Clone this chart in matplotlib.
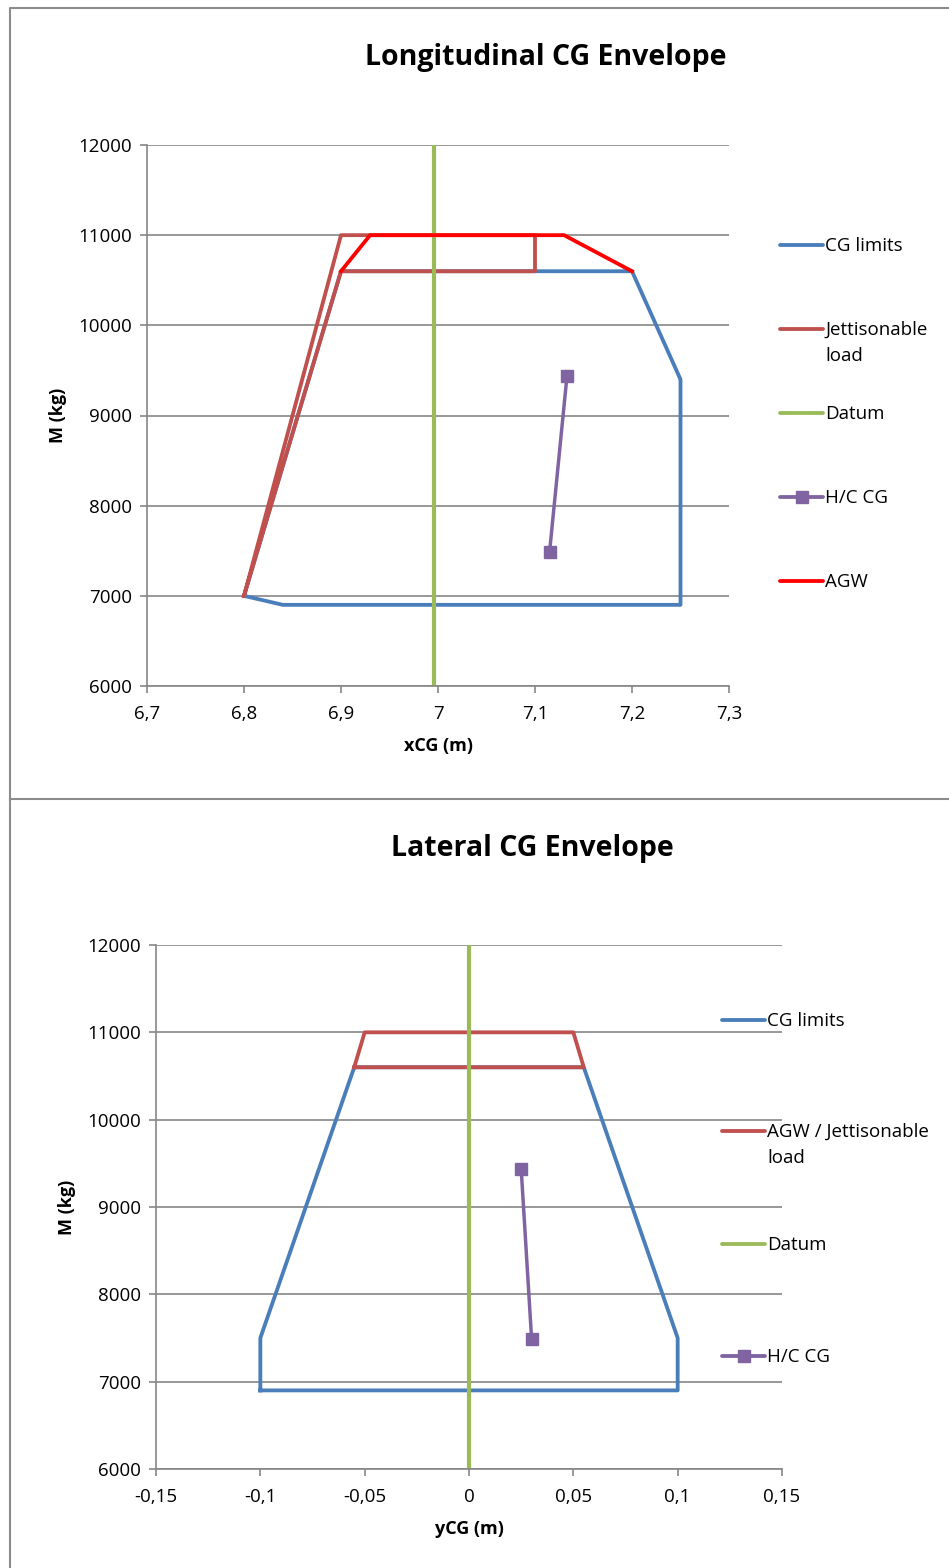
import matplotlib
matplotlib.use('Agg')
import matplotlib.pyplot as plt
from matplotlib.lines import Line2D

plt.rcParams['font.family'] = ['Open Sans', 'DejaVu Sans']

# ---- longitudinal envelope data
lon_cg_x = [6.8, 6.84, 7.25, 7.25, 7.2, 6.9, 6.8]
lon_cg_m = [7000, 6900, 6900, 9400, 10600, 10600, 7000]
lon_jet_x = [6.8, 6.9, 7.1, 7.1, 6.9, 6.8]
lon_jet_m = [7000, 11000, 11000, 10600, 10600, 7000]
lon_datum_x = [6.996, 6.996]
lon_datum_m = [6000, 12000]
lon_hc_x = [7.115, 7.133]
lon_hc_m = [7485, 9440]
lon_agw_x = [6.9, 6.93, 7.13, 7.2]
lon_agw_m = [10600, 11000, 11000, 10600]
lon_xticks = [6.7, 6.8, 6.9, 7.0, 7.1, 7.2, 7.3]
lon_xlabels = ['6,7', '6,8', '6,9', '7', '7,1', '7,2', '7,3']

# ---- lateral envelope data
lat_cg_y = [-0.1, -0.1, -0.055, 0.055, 0.1, 0.1, -0.1]
lat_cg_m = [6900, 7500, 10600, 10600, 7500, 6900, 6900]
lat_agw_y = [-0.055, -0.05, 0.05, 0.055, -0.055]
lat_agw_m = [10600, 11000, 11000, 10600, 10600]
lat_datum_y = [0, 0]
lat_datum_m = [6000, 12000]
lat_hc_y = [0.025, 0.030]
lat_hc_m = [9440, 7490]
lat_xticks = [-0.15, -0.1, -0.05, 0, 0.05, 0.1, 0.15]
lat_xlabels = ['-0,15', '-0,1', '-0,05', '0', '0,05', '0,1', '0,15']

m_ticks = [6000, 7000, 8000, 9000, 10000, 11000, 12000]

BLUE = '#4a7ebb'
BROWN = '#c0504d'
GREEN = '#9bbb59'
PURPLE = '#8064a2'
RED = '#ff0000'
GRID = '#868686'

W, H = 949, 1568
fig = plt.figure(figsize=(W / 100, H / 100), dpi=100)


def px_axes(l, t, r, b):
    return fig.add_axes([l / W, 1 - b / H, (r - l) / W, (b - t) / H])


def style_axes(ax, xlim, xticks, xlabels, xlabel):
    ax.set_xlim(xlim)
    ax.set_ylim(6000, 12000)
    ax.set_xticks(xticks)
    ax.set_xticklabels(xlabels)
    ax.set_yticks(m_ticks)
    ax.set_yticklabels([str(v) for v in m_ticks])
    for s in ['top', 'right']:
        ax.spines[s].set_visible(False)
    for s in ['left', 'bottom']:
        ax.spines[s].set_color(GRID)
        ax.spines[s].set_linewidth(1.2)
    ax.tick_params(axis='both', colors=GRID, labelcolor='black', labelsize=13.5,
                   length=5, width=1.2, direction='out')
    ax.tick_params(axis='x', pad=9)
    ax.tick_params(axis='y', pad=6)
    ax.yaxis.grid(True, color=GRID, lw=1.2)
    ax.set_axisbelow(True)
    ax.set_xlabel(xlabel, fontsize=13, fontweight='bold', labelpad=10)
    ax.set_ylabel('M (kg)', fontsize=13, fontweight='bold', labelpad=8)


def legend_entry(x0, y, text, color, marker=None):
    fig.add_artist(Line2D([x0 / W, (x0 + 43) / W], [1 - y / H, 1 - y / H],
                          transform=fig.transFigure, color=color, lw=2.75,
                          solid_capstyle='round'))
    if marker:
        fig.add_artist(Line2D([(x0 + 21.5) / W], [1 - y / H], transform=fig.transFigure,
                              color=color, marker=marker, markersize=8))
    fig.text((x0 + 45) / W, 1 - (y - 8) / H, text, fontsize=13.5, va='top',
             ha='left', linespacing=1.6)


def border(xs, ys):
    fig.add_artist(Line2D([x / W for x in xs], [1 - y / H for y in ys],
                          transform=fig.transFigure, color='#8c8c8c', lw=1.5))


# ---- chart frames
border([10, 10, 960], [799, 8, 8])
border([10, 960], [799, 799])
border([10, 10], [1580, 800])

# ---- longitudinal chart
ax1 = px_axes(147, 145, 729, 686)
ax1.plot(lon_cg_x, lon_cg_m, color=BLUE, lw=2.75)
ax1.plot(lon_jet_x, lon_jet_m, color=BROWN, lw=2.75)
ax1.plot(lon_datum_x, lon_datum_m, color=GREEN, lw=3)
ax1.plot(lon_hc_x, lon_hc_m, color=PURPLE, lw=2.5, marker='s', markersize=8)
ax1.plot(lon_agw_x, lon_agw_m, color=RED, lw=2.75)
style_axes(ax1, (6.7, 7.3), lon_xticks, lon_xlabels, 'xCG (m)')
fig.text(546 / W, 1 - 57 / H, 'Longitudinal CG Envelope', fontsize=20.5,
         fontweight='bold', ha='center', va='center')

legend_entry(780, 245, 'CG limits', BLUE)
legend_entry(780, 329, 'Jettisonable\nload', BROWN)
legend_entry(780, 413, 'Datum', GREEN)
legend_entry(780, 497, 'H/C CG', PURPLE, marker='s')
legend_entry(780, 581, 'AGW', RED)

# ---- lateral chart
ax2 = px_axes(156, 945, 782, 1469)
ax2.plot(lat_cg_y, lat_cg_m, color=BLUE, lw=2.75)
ax2.plot(lat_agw_y, lat_agw_m, color=BROWN, lw=2.75)
ax2.plot(lat_datum_y, lat_datum_m, color=GREEN, lw=3)
ax2.plot(lat_hc_y, lat_hc_m, color=PURPLE, lw=2.5, marker='s', markersize=8)
style_axes(ax2, (-0.15, 0.15), lat_xticks, lat_xlabels, 'yCG (m)')
fig.text(532 / W, 1 - 848 / H, 'Lateral CG Envelope', fontsize=20.5,
         fontweight='bold', ha='center', va='center')

legend_entry(722, 1020, 'CG limits', BLUE)
legend_entry(722, 1131, 'AGW / Jettisonable\nload', BROWN)
legend_entry(722, 1244, 'Datum', GREEN)
legend_entry(722, 1356, 'H/C CG', PURPLE, marker='s')

fig.savefig('out.png', dpi=100)
